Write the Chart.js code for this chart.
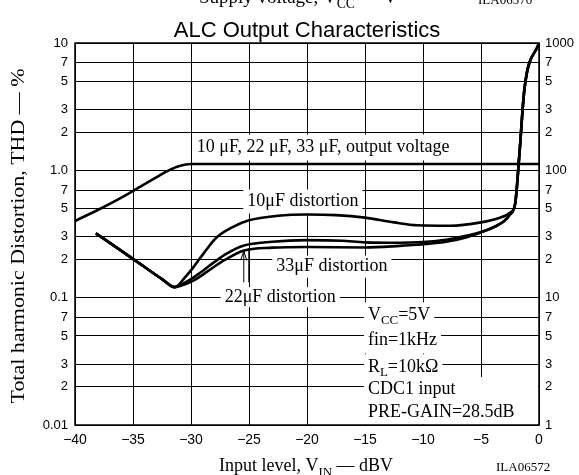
<!DOCTYPE html>
<html>
<head>
<meta charset="utf-8">
<script src="https://cdn.jsdelivr.net/npm/chart.js@4.4.0/dist/chart.umd.min.js"></script>
<style>
  html, body { margin: 0; padding: 0; background: #fff; }
  #wrap { position: relative; width: 579px; height: 475px; }
</style>
</head>
<body>
<div id="wrap"><canvas id="alcChart"></canvas></div>
<script>
// ---- data (x: input level dBV, y: THD %) ----
const xTicks = [-40, -35, -30, -25, -20, -15, -10, -5, 0];

const leftTicks = [0.01, 0.02, 0.03, 0.05, 0.07, 0.1, 0.2, 0.3, 0.5, 0.7, 1, 2, 3, 5, 7, 10];
const leftTickLabels = ['0.01', '2', '3', '5', '7', '0.1', '2', '3', '5', '7', '1.0', '2', '3', '5', '7', '10'];

const rightTicks = [1, 2, 3, 5, 7, 10, 20, 30, 50, 70, 100, 200, 300, 500, 700, 1000];
const rightTickLabels = ['1', '2', '3', '5', '7', '10', '2', '3', '5', '7', '100', '2', '3', '5', '7', '1000'];

// output voltage (read on the left scale, same curve for all three caps)
const outputX = [-40, -38, -36, -34, -33, -32, -31, -30, -25, -20, -15, -10, -5, 0];
const outputY = [0.40, 0.49, 0.61, 0.78, 0.88, 0.99, 1.08, 1.12, 1.12, 1.12, 1.12, 1.12, 1.12, 1.12];

// distortion curves
const dist10X = [-38.2, -36, -34, -32.5, -31.4, -30.5, -29.8, -28.8, -27.8, -26.5, -25, -22.5, -20, -17.5, -15, -12.5, -10.5, -7.7, -5, -3.5, -2.5, -2.05, -1.7, -1.25, 0];
const dist10Y = [0.32, 0.233, 0.174, 0.14, 0.121, 0.145, 0.173, 0.23, 0.297, 0.355, 0.405, 0.44, 0.45, 0.445, 0.425, 0.39, 0.37, 0.367, 0.39, 0.42, 0.465, 0.55, 1.3, 4.4, 10];

const dist33X = [-38.2, -36, -34, -32.5, -31.4, -31, -30, -29.3, -28, -27, -25.5, -23, -20, -17, -15, -12, -10, -8, -6.3, -4.3, -3, -2.5, -2.05, -1.7, -1.25, 0];
const dist33Y = [0.32, 0.233, 0.174, 0.14, 0.121, 0.125, 0.14, 0.155, 0.19, 0.22, 0.256, 0.275, 0.283, 0.28, 0.272, 0.27, 0.274, 0.285, 0.306, 0.345, 0.40, 0.45, 0.55, 1.3, 4.4, 10];

const dist22X = [-38.2, -36, -34, -32.5, -31.4, -31, -30, -29.3, -28, -27, -25.5, -23, -20, -15, -12, -10.6, -8, -6.3, -4.3, -3, -2.5, -2.05, -1.7, -1.25, 0];
const dist22Y = [0.32, 0.233, 0.174, 0.14, 0.121, 0.123, 0.133, 0.145, 0.175, 0.2, 0.234, 0.247, 0.25, 0.248, 0.255, 0.26, 0.275, 0.297, 0.345, 0.40, 0.45, 0.55, 1.3, 4.4, 10];

const SERIF = '"Liberation Serif", "Times New Roman", serif';
const SANS = '"Liberation Sans", Arial, Helvetica, sans-serif';

function pts(xs, ys) {
  return xs.map((x, i) => ({ x: x, y: ys[i] }));
}

// text labels placed inside the plot (x in dBV, y in %), white box behind
const notes = [
  { parts: [{ t: '10 μF, 22 μF, 33 μF, output voltage' }], x: -29.5, y: 1.51, h: 26 },
  { parts: [{ t: '10μF distortion' }], x: -25.15, y: 0.569, h: 24 },
  { parts: [{ t: '33μF distortion' }], x: -22.65, y: 0.175, h: 22 },
  { parts: [{ t: '22μF distortion' }], x: -27.1, y: 0.101, h: 20 },
  { parts: [{ t: 'V' }, { t: 'CC', sub: true }, { t: '=5V' }], x: -14.75, y: 0.0726, h: 26 },
  { parts: [{ t: 'fin=1kHz' }], x: -14.75, y: 0.0461, h: 26 },
  { parts: [{ t: 'R' }, { t: 'L', sub: true }, { t: '=10kΩ' }], x: -14.75, y: 0.0284, h: 26 },
  { parts: [{ t: 'CDC1 input' }], x: -14.75, y: 0.0192, h: 24, toRight: true },
  { parts: [{ t: 'PRE-GAIN=28.5dB' }], x: -14.75, y: 0.01254, h: 24, toRight: true }
];

function richWidth(ctx, parts, size) {
  let w = 0;
  parts.forEach(p => {
    ctx.font = (p.sub ? size * 0.72 : size) + 'px ' + SERIF;
    w += ctx.measureText(p.t).width;
  });
  return w;
}

function drawRich(ctx, parts, x, y, size) {
  let cx = x;
  parts.forEach(p => {
    ctx.font = (p.sub ? size * 0.72 : size) + 'px ' + SERIF;
    ctx.fillText(p.t, cx, p.sub ? y + 5 : y);
    cx += ctx.measureText(p.t).width;
  });
}

const notesPlugin = {
  id: 'notes',
  beforeDatasetsDraw(chart) {
    const ctx = chart.ctx, xs = chart.scales.x, ys = chart.scales.y;
    const area = chart.chartArea;
    ctx.save();
    ctx.fillStyle = '#fff';
    notes.forEach(n => {
      const px = xs.getPixelForValue(n.x), py = ys.getPixelForValue(n.y);
      const w = richWidth(ctx, n.parts, 18);
      const right = n.toRight ? area.right - 1 : px + w + 4;
      ctx.fillRect(px - 4, py - n.h / 2, right - px + 4, n.h);
    });
    ctx.restore();
  },
  afterDatasetsDraw(chart) {
    const ctx = chart.ctx, xs = chart.scales.x, ys = chart.scales.y;
    ctx.save();
    ctx.fillStyle = '#000';
    ctx.textBaseline = 'middle';
    ctx.textAlign = 'left';
    notes.forEach(n => {
      drawRich(ctx, n.parts, xs.getPixelForValue(n.x), ys.getPixelForValue(n.y), 18);
    });

    // leader arrows from the 22/33 uF labels up to their curves
    ctx.strokeStyle = '#000';
    ctx.lineWidth = 1;
    const ax1 = xs.getPixelForValue(-25.45), ax2 = xs.getPixelForValue(-25.02);
    const yTop1 = ys.getPixelForValue(0.232), yTop2 = ys.getPixelForValue(0.245);
    const yBot = ys.getPixelForValue(0.132);
    ctx.beginPath();
    ctx.moveTo(ax1, yBot); ctx.lineTo(ax1, yTop1);
    ctx.moveTo(ax1 - 3, yTop1 + 9); ctx.lineTo(ax1, yTop1); ctx.lineTo(ax1 + 3, yTop1 + 9);
    ctx.moveTo(ax2, yBot); ctx.lineTo(ax2, yTop2);
    ctx.stroke();
    ctx.restore();
  },
  afterDraw(chart) {
    const ctx = chart.ctx, a = chart.chartArea;
    ctx.save();
    // frame
    ctx.strokeStyle = '#000';
    ctx.lineWidth = 1.5;
    ctx.strokeRect(a.left, a.top, a.right - a.left, a.bottom - a.top);

    ctx.fillStyle = '#000';
    ctx.textBaseline = 'alphabetic';
    // cut-off heading from the panel above
    ctx.textAlign = 'left';
    drawRich(ctx, [{ t: 'Supply voltage, V' }, { t: 'CC', sub: true }, { t: ' — V' }], 199, 3, 19);
    ctx.font = '13px ' + SERIF;
    ctx.fillText('ILA06570', 478, 4);

    // title
    ctx.textAlign = 'center';
    ctx.font = '22px ' + SANS;
    ctx.fillText('ALC Output Characteristics', 307, 37);

    // x axis title
    ctx.textAlign = 'left';
    const xt = [{ t: 'Input level, V' }, { t: 'IN', sub: true }, { t: ' — dBV' }];
    const xw = richWidth(ctx, xt, 18);
    drawRich(ctx, xt, 306 - xw / 2, 471, 18);
    ctx.font = '13px ' + SERIF;
    ctx.fillText('ILA06572', 496, 471);

    // y axis title
    ctx.translate(24, 236);
    ctx.rotate(-Math.PI / 2);
    ctx.textAlign = 'center';
    ctx.font = '18px ' + SERIF;
    const yt = 'Total harmonic Distortion, THD — %';
    const tw = ctx.measureText(yt).width;
    ctx.scale(335 / tw, 1);
    ctx.fillText(yt, 0, 0);
    ctx.restore();
  }
};

const lineStyle = {
  borderColor: '#000',
  borderWidth: 2.6,
  pointRadius: 0,
  fill: false,
  cubicInterpolationMode: 'monotone'
};

new Chart(document.getElementById('alcChart'), {
  type: 'line',
  data: {
    datasets: [
      Object.assign({ label: 'output voltage', data: pts(outputX, outputY) }, lineStyle),
      Object.assign({ label: '10uF distortion', data: pts(dist10X, dist10Y) }, lineStyle),
      Object.assign({ label: '33uF distortion', data: pts(dist33X, dist33Y) }, lineStyle),
      Object.assign({ label: '22uF distortion', data: pts(dist22X, dist22Y) }, lineStyle)
    ]
  },
  options: {
    responsive: true,
    maintainAspectRatio: false,
    animation: false,
    layout: { padding: { top: 43, left: 0, right: 0, bottom: 0 } },
    plugins: {
      legend: { display: false },
      tooltip: { enabled: false },
      title: { display: false }
    },
    scales: {
      x: {
        type: 'linear',
        min: -40,
        max: 0,
        afterBuildTicks: s => { s.ticks = xTicks.map(v => ({ value: v })); },
        afterFit: s => { s.height = 50; },
        grid: { color: '#000', lineWidth: 1, drawTicks: false },
        border: { display: false },
        ticks: {
          padding: 7,
          color: '#000',
          font: { family: SANS, size: 14 },
          maxRotation: 0,
          autoSkip: false,
          callback: v => (v < 0 ? '\u2212' + Math.abs(v) : String(v))
        }
      },
      y: {
        type: 'logarithmic',
        position: 'left',
        min: 0.01,
        max: 10,
        afterBuildTicks: s => { s.ticks = leftTicks.map(v => ({ value: v })); },
        afterFit: s => { s.width = 75; },
        grid: { color: '#000', lineWidth: 1, drawTicks: false },
        border: { display: false },
        ticks: {
          padding: 7,
          color: '#000',
          font: { family: SANS, size: 13 },
          autoSkip: false,
          callback: (v, i) => leftTickLabels[i]
        }
      },
      y2: {
        type: 'logarithmic',
        position: 'right',
        min: 1,
        max: 1000,
        afterBuildTicks: s => { s.ticks = rightTicks.map(v => ({ value: v })); },
        afterFit: s => { s.width = 40; },
        grid: { display: false, drawTicks: false },
        border: { display: false },
        ticks: {
          padding: 6,
          color: '#000',
          font: { family: SANS, size: 13 },
          autoSkip: false,
          callback: (v, i) => rightTickLabels[i]
        }
      }
    }
  },
  plugins: [notesPlugin]
});
</script>
</body>
</html>
